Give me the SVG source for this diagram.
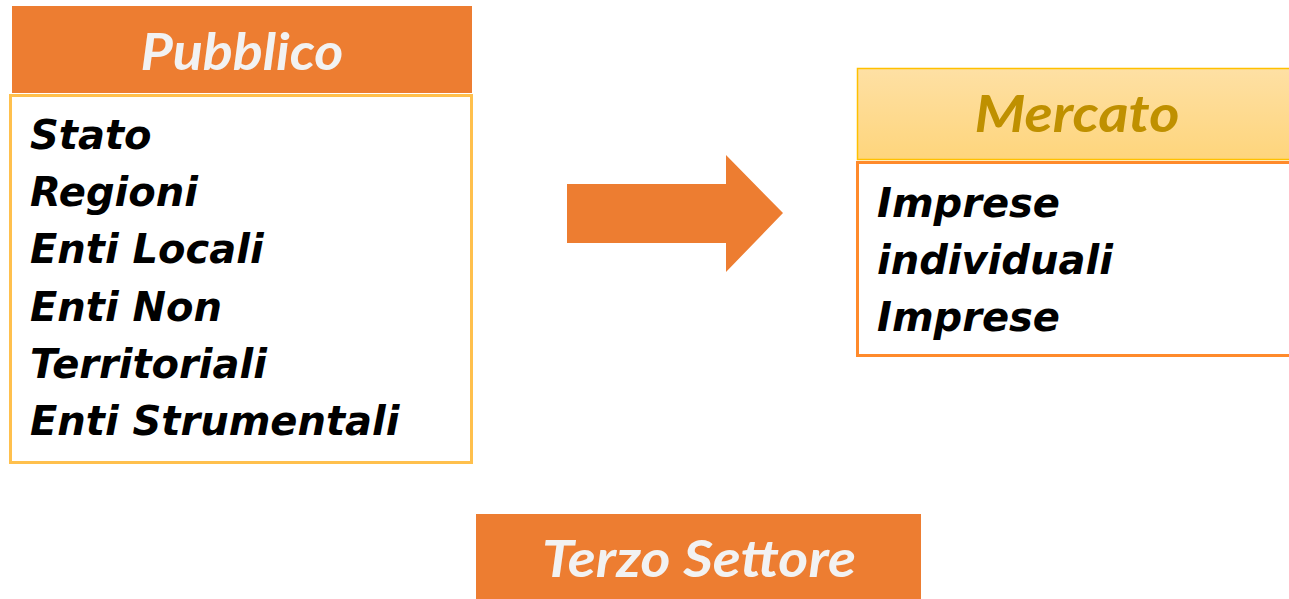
<svg xmlns="http://www.w3.org/2000/svg" width="1289" height="599" viewBox="0 0 1289 599">
<style>
.hdr{fill:#ED7D31;}
.htxt{font-family:Lato,"Open Sans",sans-serif;font-weight:bold;font-style:italic;font-size:52px;fill:#F2F2F2;text-anchor:middle;}
.body{font-family:"DejaVu Sans",Verdana,sans-serif;font-weight:bold;font-style:italic;font-size:40px;fill:#000;}
</style>
<defs>
<linearGradient id="gold" x1="0" y1="0" x2="0" y2="1">
<stop offset="0" stop-color="#FEE0A4"/>
<stop offset="1" stop-color="#FED57C"/>
</linearGradient>
</defs>
<rect width="1289" height="599" fill="#FFFFFF"/>
<g id="pubblico">
<rect class="hdr" x="12" y="6" width="460" height="87"/>
<text class="htxt" x="242" y="70" textLength="203" lengthAdjust="spacingAndGlyphs">Pubblico</text>
<rect x="10.5" y="95.5" width="461" height="367" fill="#FFFFFF" stroke="#FFC04D" stroke-width="3"/>
<text class="body" x="30" y="149">Stato</text>
<text class="body" x="30" y="206">Regioni</text>
<text class="body" x="30" y="263">Enti Locali</text>
<text class="body" x="30" y="321">Enti Non</text>
<text class="body" x="30" y="378">Territoriali</text>
<text class="body" x="30" y="435">Enti Strumentali</text>
</g>
<g id="connectors">
<polygon points="567,184 726,184 726,155 783,213 726,272 726,243 567,243" fill="#ED7D31"/>
</g>
<g id="mercato">
<rect x="857.5" y="68.5" width="440" height="91" fill="url(#gold)" stroke="#FFC000" stroke-width="1.5"/>
<text class="htxt" x="1077" y="132" style="fill:#BF9000" textLength="205" lengthAdjust="spacingAndGlyphs">Mercato</text>
<rect x="857.5" y="162.5" width="440" height="193" fill="#FFFFFF" stroke="#FF8A2B" stroke-width="3"/>
<text class="body" x="877" y="217">Imprese</text>
<text class="body" x="877" y="274">individuali</text>
<text class="body" x="877" y="331">Imprese</text>
</g>
<g id="terzo">
<rect class="hdr" x="476" y="514" width="445" height="90"/>
<text class="htxt" x="699" y="577" textLength="314" lengthAdjust="spacingAndGlyphs">Terzo Settore</text>
</g>
</svg>
